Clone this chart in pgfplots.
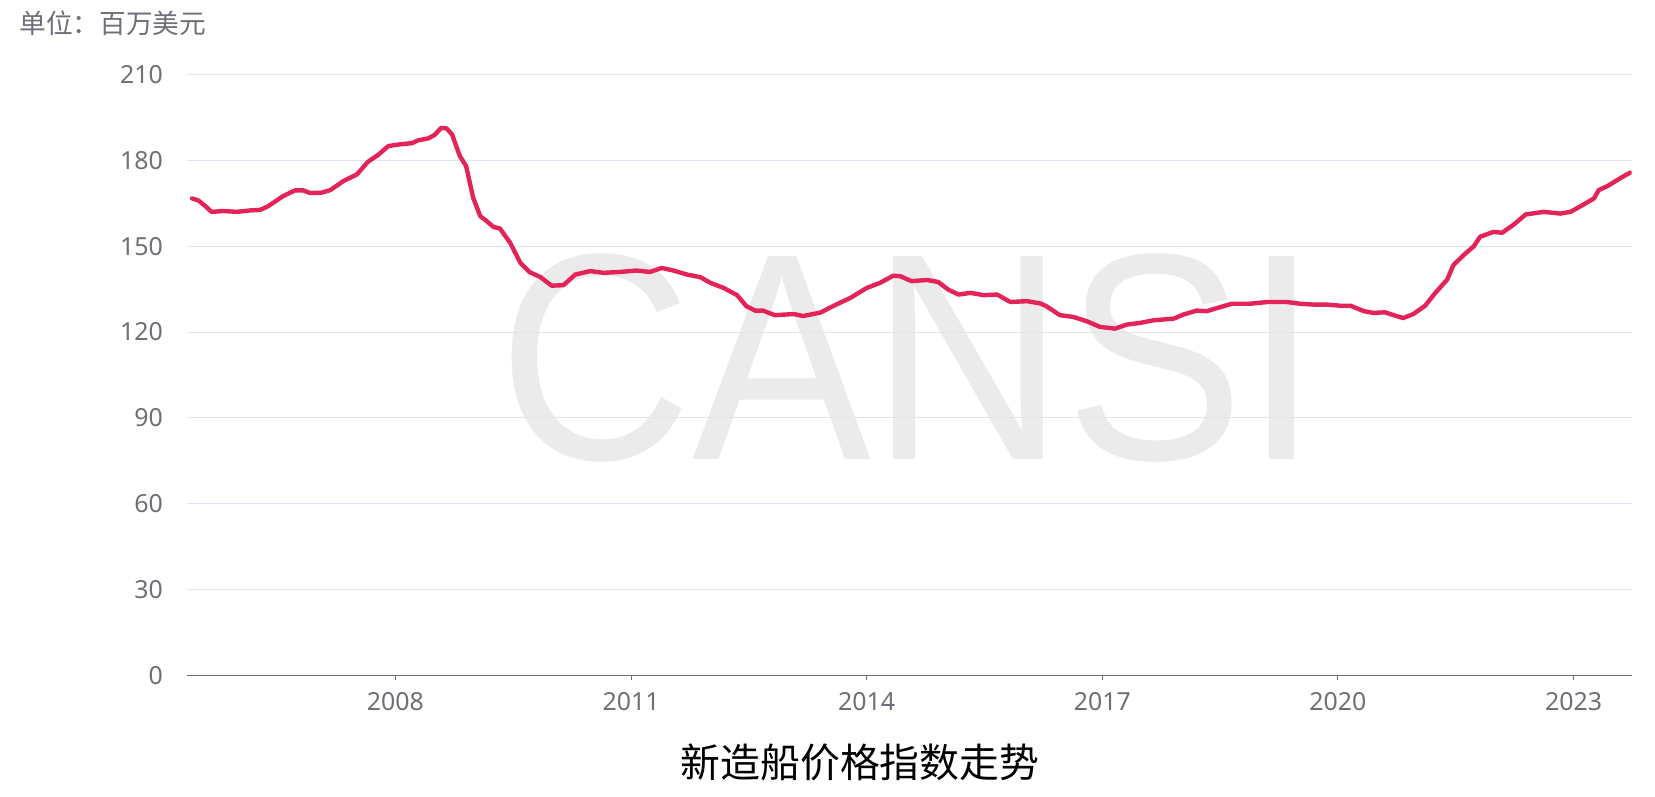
\documentclass[border=0pt]{standalone}
\usepackage{fontspec}
\setmainfont{Noto Sans}
\newfontfamily\cjk{Noto Sans CJK SC}
\newfontfamily\wmfont{Liberation Sans}
\usepackage{pgfplots}
\pgfplotsset{compat=1.18}
\definecolor{linered}{RGB}{228,36,88}
\definecolor{gridc}{RGB}{224,230,241}
\definecolor{axisc}{RGB}{110,112,121}
\definecolor{wmc}{RGB}{235,235,235}
\begin{document}
\begin{tikzpicture}
\useasboundingbox (0,0) rectangle (827.5bp,398.5bp);
\node[text=wmc, font=\wmfont\fontsize{148}{148}\selectfont, xscale=0.91, inner sep=0pt] at (454.5bp,219.75bp) {CANSI};
\begin{axis}[
  at={(93.65bp,60.75bp)}, anchor=south west,
  width=722.2bp, height=300.5bp, scale only axis,
  xmin=2005.35, xmax=2023.74, ymin=0, ymax=210,
  ytick={0,30,60,90,120,150,180,210},
  xtick={2008,2011,2014,2017,2020,2023},
  xticklabels={2008,2011,2014,2017,2020,2023},
  ymajorgrids, grid style={gridc, line width=0.5bp},
  axis x line*=bottom, axis y line*=left,
  axis line style={-},
  x axis line style={axisc, line width=0.7bp},
  y axis line style={draw=none},
  ytick style={draw=none},
  xtick style={axisc, line width=0.5bp},
  tick align=outside, major tick length=2.5bp,
  ticklabel style={font=\fontsize{12.5}{12.5}\selectfont, text=axisc},
  /pgf/number format/assume math mode=true,
  yticklabel style={inner sep=0pt, xshift=-9.5bp},
  xticklabel style={inner sep=0pt, yshift=-6bp},
]
\addplot[linered, line width=2.2bp, line join=round, line cap=round, no marks] coordinates {
(2005.41,166.7) (2005.49,166.0) (2005.58,164.0) (2005.66,162.0) (2005.81,162.3)
(2005.98,162.0) (2006.15,162.5) (2006.28,162.7) (2006.38,164.0) (2006.57,167.5)
(2006.72,169.5) (2006.83,169.5) (2006.91,168.6) (2007.06,168.7) (2007.17,169.6)
(2007.34,172.8) (2007.51,175.1) (2007.65,179.5) (2007.78,181.9) (2007.91,185.0)
(2008.06,185.6) (2008.21,186.0) (2008.29,187.0) (2008.42,187.7) (2008.50,188.9)
(2008.58,191.3) (2008.65,191.2) (2008.72,189.1) (2008.82,181.5) (2008.90,178.0)
(2008.99,166.9) (2009.08,160.5) (2009.16,158.8) (2009.25,156.7) (2009.33,156.2)
(2009.46,151.2) (2009.59,144.2) (2009.71,140.9) (2009.84,139.3) (2009.99,136.2)
(2010.14,136.4) (2010.29,140.1) (2010.48,141.3) (2010.65,140.7) (2010.86,141.0)
(2011.07,141.5) (2011.24,141.0) (2011.39,142.4) (2011.54,141.5) (2011.71,140.1)
(2011.88,139.2) (2012.01,137.2) (2012.18,135.4) (2012.35,132.9) (2012.47,129.0)
(2012.58,127.5) (2012.68,127.5) (2012.83,125.9) (2013.07,126.3) (2013.19,125.6)
(2013.41,126.8) (2013.58,129.2) (2013.79,131.9) (2014.00,135.4) (2014.17,137.2)
(2014.34,139.7) (2014.43,139.5) (2014.57,137.8) (2014.77,138.2) (2014.91,137.5)
(2015.04,134.8) (2015.17,133.1) (2015.32,133.7) (2015.49,132.9) (2015.66,133.1)
(2015.83,130.5) (2016.04,130.8) (2016.21,130.0) (2016.29,129.0) (2016.46,125.9)
(2016.63,125.3) (2016.80,123.8) (2016.97,121.8) (2017.16,121.2) (2017.31,122.6)
(2017.48,123.2) (2017.65,124.1) (2017.91,124.7) (2018.03,126.1) (2018.20,127.5)
(2018.33,127.3) (2018.50,128.7) (2018.65,129.9) (2018.88,129.9) (2019.10,130.5)
(2019.35,130.5) (2019.52,129.9) (2019.69,129.6) (2019.86,129.6) (2020.03,129.2)
(2020.16,129.2) (2020.33,127.3) (2020.45,126.7) (2020.60,126.9) (2020.71,125.9)
(2020.83,124.9) (2020.96,126.3) (2021.11,129.2) (2021.24,133.7) (2021.39,138.3)
(2021.47,143.4) (2021.60,146.9) (2021.73,150.0) (2021.81,153.3) (2021.98,155.0)
(2022.09,154.7) (2022.24,157.6) (2022.39,161.1) (2022.62,162.0) (2022.83,161.4)
(2022.96,162.0) (2023.13,164.6) (2023.26,166.7) (2023.32,169.6) (2023.43,171.0)
(2023.55,173.0) (2023.64,174.5) (2023.72,175.7)
};
\end{axis}
\node[font=\cjk\fontsize{20}{20}\selectfont, text=black] at (430bp,17.5bp) {新造船价格指数走势};
\node[anchor=west, font=\cjk\fontsize{13.4}{13.4}\selectfont, text=axisc, inner sep=0pt] at (9.5bp,387bp) {单位：百万美元};
\end{tikzpicture}
\end{document}
